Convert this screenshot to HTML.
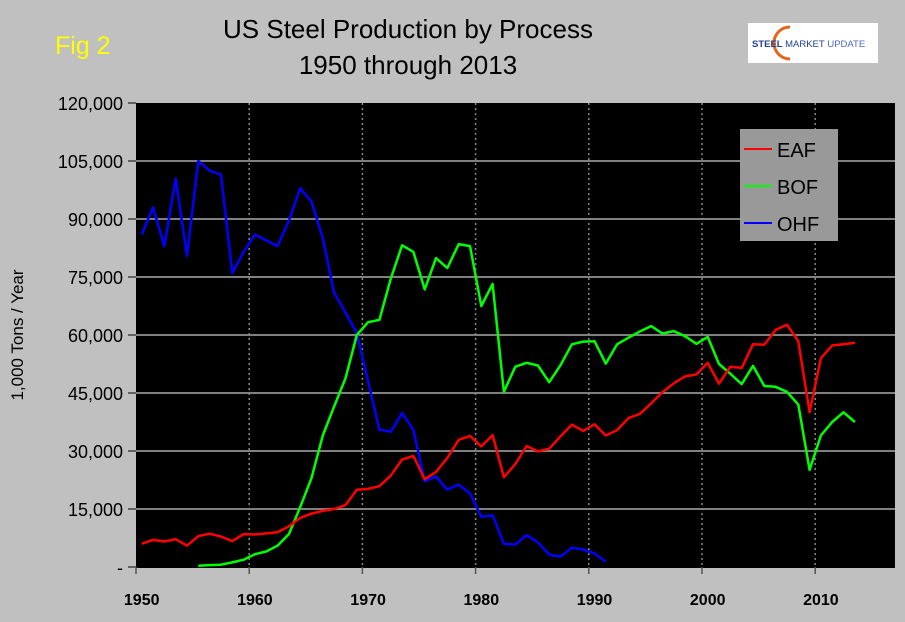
<!DOCTYPE html>
<html><head><meta charset="utf-8"><style>
body{margin:0;background:#c0c0c0;}
svg{display:block;font-family:"Liberation Sans",Arial,sans-serif;}
</style></head><body>
<svg id="chart" width="905" height="622" viewBox="0 0 905 622">
<rect x="0" y="0" width="905" height="622" fill="#c0c0c0"/>
<text x="55" y="54" font-size="25" fill="#ffff00">Fig 2</text>
<text x="408" y="38" font-size="26" text-anchor="middle" fill="#000">US Steel Production by Process</text>
<text x="408" y="74" font-size="26" text-anchor="middle" fill="#000">1950 through 2013</text>
<g>
<rect x="748" y="23" width="130" height="40" fill="#fff"/>
<path d="M790 27 A14 14 0 1 0 790 59" fill="none" stroke="#e8641a" stroke-width="3"/>
<text x="752" y="47" font-size="9.5" font-weight="bold" fill="#1f3f8f">STEEL <tspan font-weight="normal">MARKET</tspan> <tspan font-weight="normal" fill="#4a6abf">UPDATE</tspan></text>
</g>
<rect x="136" y="103" width="759" height="465" fill="#000"/>
<g id="grid"></g><g id="axes"></g><g id="series"></g>
<text transform="translate(23,335) rotate(-90)" font-size="17" text-anchor="middle" fill="#000">1,000 Tons / Year</text>
<g>
<rect x="740" y="129" width="98" height="112" fill="#999"/>
<line x1="744" y1="149" x2="772" y2="149" stroke="#ff0000" stroke-width="2"/><text x="777" y="157" font-size="20">EAF</text>
<line x1="744" y1="186" x2="772" y2="186" stroke="#00ff00" stroke-width="2"/><text x="777" y="194" font-size="20">BOF</text>
<line x1="744" y1="223" x2="772" y2="223" stroke="#0000ff" stroke-width="2"/><text x="777" y="231" font-size="20">OHF</text>
</g>
</svg>
<script>
const yTicks=[0,15000,30000,45000,60000,75000,90000,105000,120000];
const yTickLabels=["-","15,000","30,000","45,000","60,000","75,000","90,000","105,000","120,000"];
const xTicks=[1950,1960,1970,1980,1990,2000,2010];
const eafYears=[1950,1951,1952,1953,1954,1955,1956,1957,1958,1959,1960,1961,1962,1963,1964,1965,1966,1967,1968,1969,1970,1971,1972,1973,1974,1975,1976,1977,1978,1979,1980,1981,1982,1983,1984,1985,1986,1987,1988,1989,1990,1991,1992,1993,1994,1995,1996,1997,1998,1999,2000,2001,2002,2003,2004,2005,2006,2007,2008,2009,2010,2011,2012,2013];
const eafValues=[6000,7000,6600,7200,5500,8000,8600,7900,6700,8500,8400,8700,9000,10500,12700,13800,14500,15000,16000,20000,20200,20900,23600,27800,28700,22700,24600,28200,32900,33900,31200,34100,23200,26600,31300,29900,30600,33800,36800,35200,36900,34000,35400,38500,39600,42300,45200,47500,49300,49800,52800,47400,51800,51500,57600,57500,61300,62700,58400,40000,54000,57300,57600,58000];
const bofYears=[1955,1956,1957,1958,1959,1960,1961,1962,1963,1964,1965,1966,1967,1968,1969,1970,1971,1972,1973,1974,1975,1976,1977,1978,1979,1980,1981,1982,1983,1984,1985,1986,1987,1988,1989,1990,1991,1992,1993,1994,1995,1996,1997,1998,1999,2000,2001,2002,2003,2004,2005,2006,2007,2008,2009,2010,2011,2012,2013];
const bofValues=[300,500,600,1200,1900,3300,4000,5500,8500,15500,23000,34000,41500,48800,60000,63300,63900,74500,83200,81500,71800,79900,77300,83500,83000,67500,73200,45300,51800,52800,52100,47800,52200,57600,58300,58400,52600,57600,59300,60900,62300,60400,61000,59700,57700,59500,52500,50000,47300,52000,46800,46600,45300,42000,25100,34000,37500,40000,37500];
const ohfYears=[1950,1951,1952,1953,1954,1955,1956,1957,1958,1959,1960,1961,1962,1963,1964,1965,1966,1967,1968,1969,1970,1971,1972,1973,1974,1975,1976,1977,1978,1979,1980,1981,1982,1983,1984,1985,1986,1987,1988,1989,1990,1991];
const ohfValues=[86000,93000,83000,100500,80500,105000,102500,101500,76000,81500,86000,84500,83000,89500,98000,94500,85000,71000,65800,60500,48000,35500,35000,39800,35500,22200,23400,20000,21300,19000,13000,13400,6000,5800,8300,6400,3200,2700,5000,4500,3500,1400];
const NS="http://www.w3.org/2000/svg";
const L=136,R=895,T=103,B=567;
function gx(y){return L+(y-1950)*11.32;}
function xs(y){return L+5.7+(y-1950)*11.32;}
function ys(v){return B-(v/120000)*(B-T);}
function mk(tag,attrs,parent){const e=document.createElementNS(NS,tag);for(const k in attrs)e.setAttribute(k,attrs[k]);parent.appendChild(e);return e;}
const grid=document.getElementById('grid'),axes=document.getElementById('axes'),series=document.getElementById('series');
yTicks.forEach((v,i)=>{
 if(i>0&&i<yTicks.length-1){const g=mk('line',{x1:L,x2:R,y1:ys(v),y2:ys(v),stroke:'#808080','stroke-width':2},grid);
 
 }
 const tk=mk('line',{x1:L-8,x2:L,y1:ys(v),y2:ys(v),stroke:'#000','stroke-width':1},axes);
 
 
 const t=mk('text',{x:L-13,y:ys(v)+7,'font-size':18,'text-anchor':'end',fill:'#000'},axes);
 t.textContent=yTickLabels[i];
 
 
});
xTicks.forEach(yr=>{
 if(yr>1950){const g=mk('line',{x1:gx(yr),x2:gx(yr),y1:T,y2:B,stroke:'#888','stroke-width':1.5,'stroke-dasharray':'2,3'},grid);
 
 }
 const tk=mk('line',{x1:gx(yr),x2:gx(yr),y1:B,y2:B+7,stroke:'#555','stroke-width':1.5},axes);
 
 
 const t=mk('text',{x:xs(yr),y:605,'font-size':16,'font-weight':'bold','text-anchor':'middle',fill:'#000'},axes);
 t.textContent=yr;
 
 
});
function line(years,vals,color,name){
 const d=years.map((y,i)=>(i?'L':'M')+xs(y).toFixed(1)+' '+ys(vals[i]).toFixed(1)).join(' ');
 const p=mk('path',{d:d,fill:'none',stroke:color,'stroke-width':2.5,'stroke-linejoin':'round'},series);
 
 
}
line(ohfYears,ohfValues,'#0000ff','ohf-line');
line(bofYears,bofValues,'#00ff00','bof-line');
line(eafYears,eafValues,'#ff0000','eaf-line');
</script>
</body></html>
